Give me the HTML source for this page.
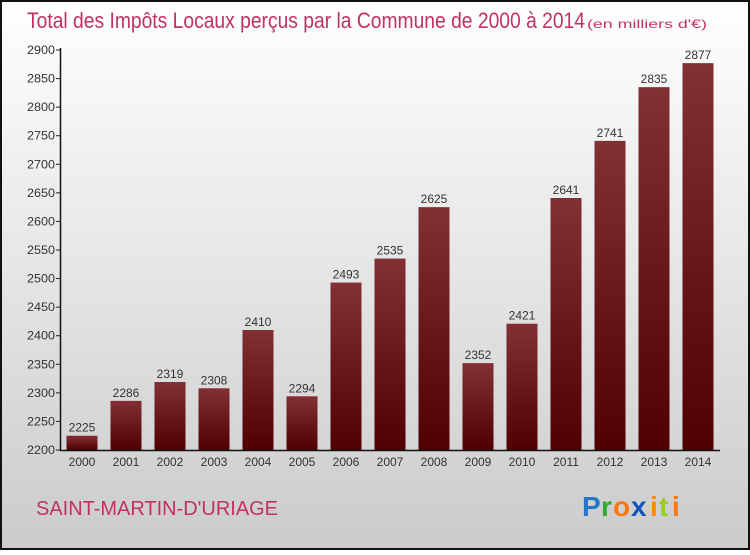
<!DOCTYPE html>
<html><head><meta charset="utf-8"><style>
body{margin:0;width:750px;height:550px;overflow:hidden;font-family:"Liberation Sans",sans-serif}
</style></head><body>
<svg id="chart" width="750" height="550" xmlns="http://www.w3.org/2000/svg">
<defs>
<linearGradient id="bg" x1="0" y1="0" x2="0" y2="1"><stop offset="0" stop-color="#ffffff"/><stop offset="1" stop-color="#cbcbcb"/></linearGradient>
<linearGradient id="bar" x1="0" y1="0" x2="0" y2="1"><stop offset="0" stop-color="#833034"/><stop offset="1" stop-color="#4e0002"/></linearGradient>
</defs>
<rect x="1" y="1" width="748" height="548" fill="url(#bg)" stroke="#111" stroke-width="2"/>
<text x="27" y="28" font-size="22" fill="#c2325e" textLength="558" lengthAdjust="spacingAndGlyphs">Total des Impôts Locaux perçus par la Commune de 2000 à 2014</text>
<text x="587" y="28" font-size="12" fill="#c2325e" textLength="120" lengthAdjust="spacingAndGlyphs">(en milliers d'€)</text>
<text x="36" y="515" font-size="20" fill="#c2325e" textLength="242" lengthAdjust="spacingAndGlyphs">SAINT-MARTIN-D'URIAGE</text>
<g font-size="28" font-weight="bold">
<text x="582" y="516" fill="#2277cc">P</text><text x="601" y="516" fill="#33aa33">r</text><text x="613" y="516" fill="#ff7711">o</text><text x="631" y="516" fill="#1155bb">x</text><text x="650" y="516" fill="#ff8800">i</text><text x="659" y="516" fill="#99cc22">t</text><text x="672" y="516" fill="#ff7711">i</text>
</g>
<g id="plot"></g>
</svg>
<script>
const years=["2000","2001","2002","2003","2004","2005","2006","2007","2008","2009","2010","2011","2012","2013","2014"];
const values=[2225,2286,2319,2308,2410,2294,2493,2535,2625,2352,2421,2641,2741,2835,2877];
const yTicks=[2200,2250,2300,2350,2400,2450,2500,2550,2600,2650,2700,2750,2800,2850,2900];
const NS="http://www.w3.org/2000/svg",g=document.getElementById('plot');
const y0=450,y1=50,vmin=2200,vmax=2900;
const y=v=>y0-(v-vmin)/(vmax-vmin)*(y0-y1);
const x=i=>82+i*44;
function mk(t,a,txt){const e=document.createElementNS(NS,t);for(const k in a)e.setAttribute(k,a[k]);if(txt!=null)e.textContent=txt;g.appendChild(e);return e;}
yTicks.forEach(v=>{
const tk=mk('line',{x1:56,x2:61,y1:y(v),y2:y(v),stroke:'#222'});


const l=mk('text',{x:55,y:y(v)+4,'font-size':12,fill:'#333','text-anchor':'end',textLength:28,lengthAdjust:'spacingAndGlyphs'},v);


});
values.forEach((v,i)=>{
const b=mk('rect',{x:x(i)-15.5,y:y(v),width:31,height:y0-y(v),fill:'url(#bar)'});


const t=mk('text',{x:x(i),y:y(v)-4,'font-size':12,fill:'#333','text-anchor':'middle'},v);


const yl=mk('text',{x:x(i),y:466,'font-size':12,fill:'#333','text-anchor':'middle'},years[i]);


});
const ya=mk('line',{x1:60.5,x2:60.5,y1:y1-2,y2:y0+1,stroke:'#111','stroke-width':1.5});


const xa=mk('line',{x1:60,x2:720,y1:y0+0.5,y2:y0+0.5,stroke:'#111','stroke-width':1.5});


</script>
</body></html>
